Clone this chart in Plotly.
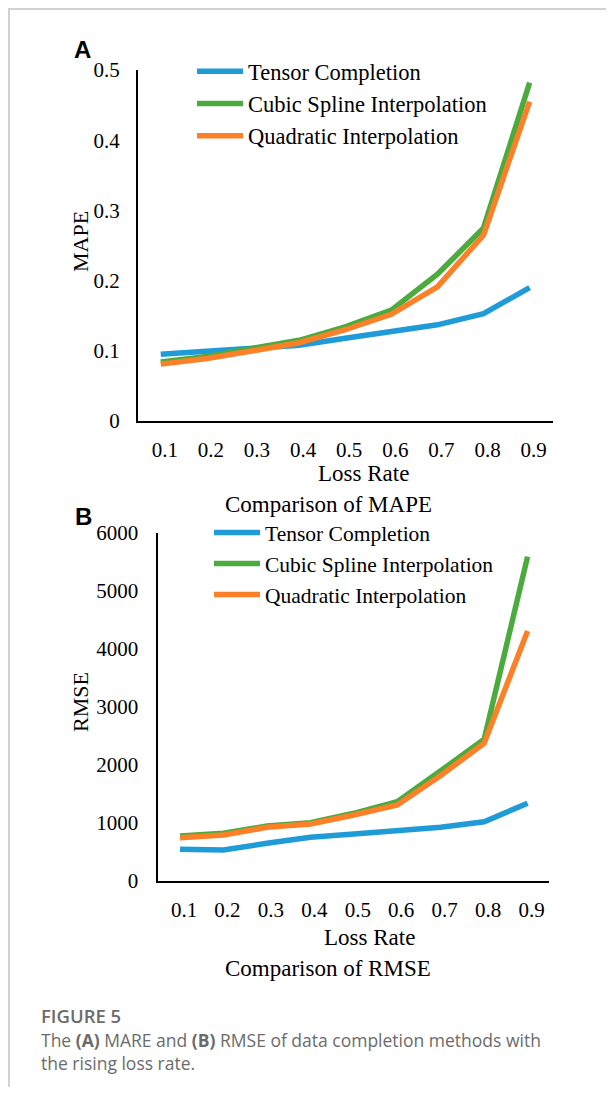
import plotly.graph_objects as go

# the page body has an 8px margin; size the figure so the page fits the 614x1095 window
OFF = 8
W, H = 614 - 2 * OFF, 1095 - 2 * OFF

loss_rate = ["0.1", "0.2", "0.3", "0.4", "0.5", "0.6", "0.7", "0.8", "0.9"]
series_names = ["Tensor Completion", "Cubic Spline Interpolation", "Quadratic Interpolation"]
series_colors = ["#1f9bd8", "#4bab3d", "#fd7f28"]

mape_tensor = [0.095, 0.099, 0.103, 0.108, 0.118, 0.127, 0.137, 0.153, 0.190]
mape_cubic = [0.084, 0.092, 0.1035, 0.115, 0.134, 0.158, 0.209, 0.275, 0.482]
mape_quad = [0.081, 0.089, 0.100, 0.1115, 0.130, 0.152, 0.191, 0.265, 0.455]

rmse_tensor = [546, 534, 650, 753, 810, 862, 925, 1022, 1340]
rmse_cubic = [776, 822, 948, 1005, 1167, 1368, 1900, 2443, 5592]
rmse_quad = [747, 793, 925, 983, 1138, 1310, 1820, 2374, 4310]

mape_ticks = [0, 0.1, 0.2, 0.3, 0.4, 0.5]
mape_ticktext = ["0", "0.1", "0.2", "0.3", "0.4", "0.5"]
rmse_ticks = [0, 1000, 2000, 3000, 4000, 5000, 6000]
rmse_ticktext = ["0", "1000", "2000", "3000", "4000", "5000", "6000"]


def px_x(x):
    return (x - OFF) / W


def px_y(y):
    return 1 - (y - OFF) / H


SERIF = "Liberation Serif, Times New Roman, serif"

fig = go.Figure()

for i, (name, vals) in enumerate(zip(series_names, [mape_tensor, mape_cubic, mape_quad])):
    fig.add_trace(go.Scatter(
        x=loss_rate, y=vals, mode="lines", name=name,
        line=dict(color=series_colors[i], width=5.5),
        xaxis="x", yaxis="y", legend="legend",
    ))

for i, (name, vals) in enumerate(zip(series_names, [rmse_tensor, rmse_cubic, rmse_quad])):
    fig.add_trace(go.Scatter(
        x=loss_rate, y=vals, mode="lines", name=name,
        line=dict(color=series_colors[i], width=5.5),
        xaxis="x2", yaxis="y2", legend="legend2",
    ))

axis_common = dict(
    showline=True, linecolor="black", linewidth=1.5, showgrid=False,
    zeroline=False, ticks="", automargin=False,
    tickfont=dict(family=SERIF, size=21, color="black"),
)

fig.update_layout(
    width=W, height=H,
    margin=dict(l=0, r=0, t=0, b=0, autoexpand=False),
    paper_bgcolor="white", plot_bgcolor="white",
    font=dict(family=SERIF, size=21, color="black"),
    xaxis=dict(
        domain=[px_x(137.7), px_x(552.7)], anchor="y", type="category",
        range=[-0.5, 8.5], ticklabelstandoff=9, ticklabelshift=4, **axis_common,
    ),
    yaxis=dict(
        domain=[px_y(421), px_y(70)], anchor="x", range=[0, 0.5],
        tickvals=mape_ticks, ticktext=mape_ticktext, ticklabelstandoff=12, **axis_common,
    ),
    xaxis2=dict(
        domain=[px_x(158.3), px_x(549.3)], anchor="y2", type="category",
        range=[-0.5, 8.5], ticklabelstandoff=9, ticklabelshift=4, **axis_common,
    ),
    yaxis2=dict(
        domain=[px_y(881), px_y(533)], anchor="x2", range=[0, 6000],
        tickvals=rmse_ticks, ticktext=rmse_ticktext, ticklabelstandoff=14, **axis_common,
    ),
    legend=dict(
        x=px_x(192), y=px_y(50), xanchor="left", yanchor="top",
        bgcolor="rgba(0,0,0,0)", font=dict(family=SERIF, size=22.5, color="black"),
        tracegroupgap=0, itemwidth=46,
    ),
    legend2=dict(
        x=px_x(209), y=px_y(512), xanchor="left", yanchor="top",
        bgcolor="rgba(0,0,0,0)", font=dict(family=SERIF, size=21.5, color="black"),
        tracegroupgap=0, itemwidth=46,
    ),
)

annotations = [
    dict(text="MAPE", x=px_x(80), y=px_y(242), textangle=-90, size=22),
    dict(text="Loss Rate", x=px_x(363), y=px_y(474), size=23),
    dict(text="Comparison of MAPE", x=px_x(328), y=px_y(505), size=23),
    dict(text="RMSE", x=px_x(80), y=px_y(702), textangle=-90, size=22),
    dict(text="Loss Rate", x=px_x(369), y=px_y(937), size=23),
    dict(text="Comparison of RMSE", x=px_x(328), y=px_y(968), size=23),
]
for a in annotations:
    size = a.pop("size")
    fig.add_annotation(xref="paper", yref="paper", showarrow=False,
                       xanchor="center", yanchor="middle",
                       font=dict(family=SERIF, size=size, color="black"), **a)

for lab, x, y in [("A", 82, 49), ("B", 83, 516)]:
    fig.add_annotation(text="<b>%s</b>" % lab, xref="paper", yref="paper",
                       x=px_x(x), y=px_y(y), showarrow=False,
                       xanchor="center", yanchor="middle",
                       font=dict(family="Liberation Sans, Arial, sans-serif", size=24, color="black"))

CAP = "Open Sans, Noto Sans, sans-serif"
CAP_COLOR = "#6b6b6b"
fig.add_annotation(text="FIGURE 5", xref="paper", yref="paper", x=px_x(39), y=px_y(1015),
                   showarrow=False, xanchor="left", yanchor="middle",
                   font=dict(family=CAP, size=18.5, color=CAP_COLOR, weight=600))
fig.add_annotation(text="The <b>(A)</b> MARE and <b>(B)</b> RMSE of data completion methods with",
                   xref="paper", yref="paper", x=px_x(39), y=px_y(1040),
                   showarrow=False, xanchor="left", yanchor="middle",
                   font=dict(family=CAP, size=17.5, color=CAP_COLOR))
fig.add_annotation(text="the rising loss rate.",
                   xref="paper", yref="paper", x=px_x(39), y=px_y(1063),
                   showarrow=False, xanchor="left", yanchor="middle",
                   font=dict(family=CAP, size=17.5, color=CAP_COLOR))

# card frame lines (top and left edges of the figure)
fig.add_shape(type="line", xref="paper", yref="paper", x0=0, x1=1, y0=px_y(9), y1=px_y(9),
              line=dict(color="#d2d2d2", width=2))
fig.add_shape(type="line", xref="paper", yref="paper", x0=px_x(9), x1=px_x(9), y0=px_y(8), y1=0,
              line=dict(color="#d2d2d2", width=2))

fig.write_html("out.html", config={"displayModeBar": False})
